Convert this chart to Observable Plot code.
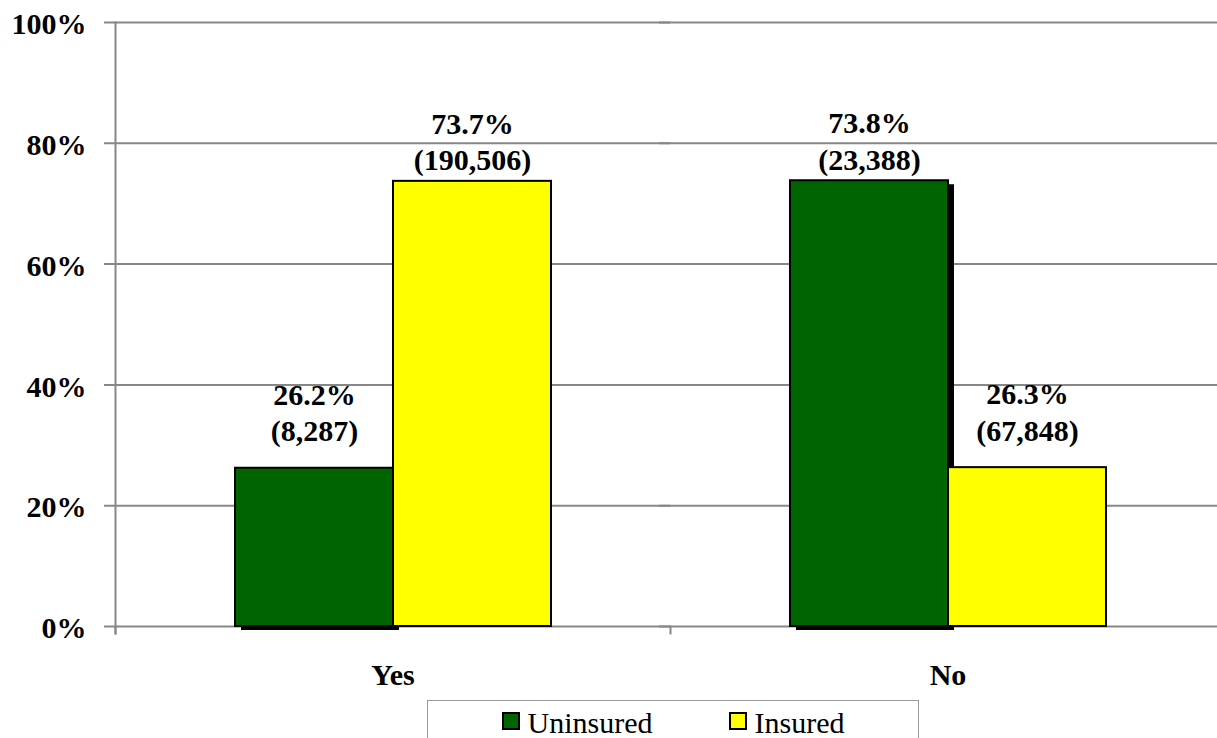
<!DOCTYPE html>
<html>
<head>
<meta charset="utf-8">
<script src="https://cdn.jsdelivr.net/npm/d3@7"></script>
<script src="https://cdn.jsdelivr.net/npm/@observablehq/plot@0.6"></script>
<style>
  html, body { margin: 0; padding: 0; background: white; overflow: hidden; }
  #wrap { position: relative; width: 1217px; height: 738px; overflow: hidden; }
  #chart { position: absolute; left: 0; top: 0; width: 1225px; }
  #chart svg { max-width: none !important; }
  #legend {
    position: absolute; left: 427px; top: 700px; width: 492px; height: 60px;
    border: 1px solid #9a9a9a; box-sizing: border-box; padding-top: 7px;
    display: flex; justify-content: center; gap: 76px;
    font-family: "Liberation Serif", "Times New Roman", serif; font-size: 30px; color: black;
  }
  .item { display: flex; align-items: flex-start; gap: 8px; }
  .sw { width: 14px; height: 14px; border: 2px solid black; margin-top: 4px; }
  .lab { line-height: 30px; }
</style>
</head>
<body>
<div id="wrap">
  <div id="chart"></div>
  <div id="legend"></div>
</div>
<script>
const groups = ["Yes", "No"];
const seriesNames = ["Uninsured", "Insured"];
const uninsuredPct = [26.2, 73.8];
const insuredPct = [73.7, 26.3];
const uninsuredCount = [8287, 23388];
const insuredCount = [190506, 67848];
const yTicks = [0, 20, 40, 60, 80, 100];
const colors = ["#006400", "#FFFF00"];

const rows = [];
groups.forEach((g, i) => {
  rows.push({group: g, series: seriesNames[0], value: uninsuredPct[i], count: uninsuredCount[i]});
  rows.push({group: g, series: seriesNames[1], value: insuredPct[i], count: insuredCount[i]});
});

const fmt = d3.format(",");
const labelText = d => `${d.value.toFixed(1)}%\n(${fmt(d.count)})`;
const gray = "#878787";
const serif = "Liberation Serif, Times New Roman, serif";

const chart = Plot.plot({
  width: 1225,
  height: 698,
  marginLeft: 115,
  marginRight: 0,
  marginTop: 22,
  marginBottom: 72,
  style: {fontFamily: serif, fontSize: "30px", fontWeight: "bold", color: "black", background: "white", overflow: "visible", maxWidth: "none"},
  fx: {domain: groups, padding: 0, label: null},
  x: {domain: seriesNames, paddingInner: 0, paddingOuter: 0.756, axis: null},
  y: {domain: [0, 100]},
  color: {domain: seriesNames, range: colors},
  marks: [
    Plot.gridY(yTicks, {stroke: gray, strokeOpacity: 1, strokeWidth: 2, insetLeft: -11}),
    Plot.frame({anchor: "left", facetAnchor: "left", insetBottom: -7, stroke: gray, strokeWidth: 2}),
    Plot.frame({anchor: "left", insetTop: 604, insetBottom: -7, stroke: gray, strokeWidth: 2}),
    Plot.axisY({ticks: yTicks, tickFormat: d => d + "%", tickSize: 0, tickPadding: 29, dy: 2, label: null, fill: "black", fontSize: 30, fontWeight: "bold", fontFamily: serif}),
    Plot.axisFx({anchor: "bottom", tickSize: 0, tickPadding: 37, label: null, fill: "black", fontSize: 30, fontWeight: "bold", fontFamily: serif}),
    Plot.barY(rows.filter(d => d.series === seriesNames[0]), {fx: "group", x: "series", y: "value", fill: "black", dx: 6, dy: 4}),
    Plot.barY(rows, {fx: "group", x: "series", y: "value", fill: "series", stroke: "black", strokeWidth: 2}),
    Plot.text(rows.filter(d => d.value > 50), {fx: "group", x: "series", y: "value", text: labelText, lineAnchor: "bottom", lineHeight: 1.22, dy: -11, fill: "black", fontSize: 30, fontWeight: "bold", fontFamily: serif}),
    Plot.text(rows.filter(d => d.value <= 50), {fx: "group", x: "series", y: "value", text: labelText, lineAnchor: "bottom", lineHeight: 1.22, dy: -27, fill: "black", fontSize: 30, fontWeight: "bold", fontFamily: serif})
  ]
});
document.getElementById("chart").appendChild(chart);

const legend = document.getElementById("legend");
seriesNames.forEach((s, i) => {
  const item = document.createElement("div");
  item.className = "item";
  const sw = document.createElement("div");
  sw.className = "sw";
  sw.style.background = colors[i];
  const lab = document.createElement("span");
  lab.className = "lab";
  lab.textContent = s;
  item.appendChild(sw);
  item.appendChild(lab);
  legend.appendChild(item);
});
</script>
</body>
</html>
